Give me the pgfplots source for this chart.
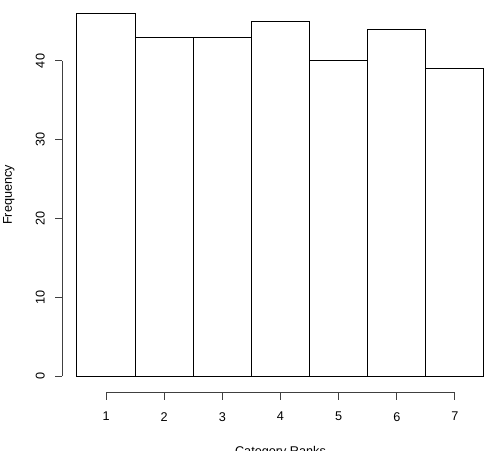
\documentclass[border=0pt]{standalone}
\usepackage{pgfplots}
\pgfplotsset{compat=1.18}
\usepackage{fontspec}
\setmainfont{Liberation Sans}
\pgfplotsset{
  /pgf/number format/assume math mode=true,
  every axis/.append style={font=\fontsize{9.5}{11}\selectfont},
}
\begin{document}
\begin{tikzpicture}
\useasboundingbox (0,0) rectangle (366.75pt,337.5pt);
% bars
\begin{axis}[
  name=A,
  anchor=south west, at={(57.75pt,55.5pt)},
  scale only axis, width=305.25pt, height=271.69pt,
  xmin=0.5, xmax=7.5, ymin=0, ymax=46,
  enlargelimits=false,
  xtick=\empty, ytick=\empty,
  axis line style={draw=none},
  clip=false,
  xlabel={Category Ranks},
  ylabel={Frequency},
  xlabel style={at={(axis description cs:0.5,0)}, anchor=north, inner sep=0pt, yshift=-52.5pt},
  ylabel style={at={(axis description cs:0,0.5)}, anchor=north, inner sep=0pt, yshift=55.5pt},
]
\addplot[ybar interval, fill=white, draw=black, line width=0.75pt]
  coordinates {(0.5,46) (1.5,43) (2.5,43) (3.5,45) (4.5,40) (5.5,44) (6.5,39) (7.5,39)};
\end{axis}
% x axis
\begin{axis}[
  anchor=south west, at={(79.55pt,43.5pt)},
  scale only axis, width=261.64pt, height=1pt,
  xmin=1, xmax=7, ymin=0, ymax=1,
  axis x line*=bottom, axis y line=none,
  xtick={1,2,3,4,5,6,7}, ytick=\empty,
  tick align=outside, major tick length=6pt,
  axis line style={line width=0.75pt, black!75},
  every tick/.style={line width=0.75pt, black!75},
  xticklabel style={anchor=north, inner sep=0pt, yshift=-9pt},
]
\addplot[draw=none] coordinates {(1,0) (7,0)};
\end{axis}
% y axis
\begin{axis}[
  anchor=south west, at={(46.5pt,55.5pt)},
  scale only axis, width=1pt, height=236.25pt,
  xmin=0, xmax=1, ymin=0, ymax=40,
  axis y line*=left, axis x line=none,
  ytick={0,10,20,30,40}, xtick=\empty,
  tick align=outside, major tick length=5.25pt,
  axis line style={line width=0.75pt, black!75},
  every tick/.style={line width=0.75pt, black!75},
  yticklabel style={rotate=90, anchor=south, inner sep=0pt, yshift=7.5pt},
]
\addplot[draw=none] coordinates {(0,0) (0,40)};
\end{axis}
\end{tikzpicture}
\end{document}
